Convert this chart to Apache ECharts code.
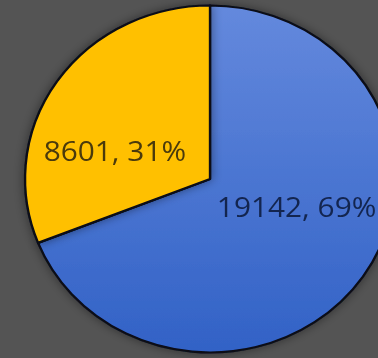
<!DOCTYPE html>
<html>
<head>
<meta charset="utf-8">
<script src="https://cdn.jsdelivr.net/npm/echarts@6/dist/echarts.min.js"></script>
<style>
  html, body { margin: 0; padding: 0; background: #545454; }
  #chart {
    width: 378px; height: 358px;
    /* the pie is drawn slightly wider than tall */
    transform: scaleX(1.066);
    transform-origin: 210px 0;
  }
</style>
</head>
<body>
<div id="chart"></div>
<script>
const categories = ['B', 'A'];
const values = [19142, 8601];
const colors = ['#4a78d2', '#ffc000'];
const labelColors = ['#13254f', '#4a3a0c'];
// nudges of the value labels away from their default inside spot
const labelShift = [[7, -24], [-15, 21]];

const blueFill = new echarts.graphic.LinearGradient(0, 5, 0, 351, [
  { offset: 0, color: '#6489dd' },
  { offset: 1, color: '#3262c6' }
], true);

const chart = echarts.init(document.getElementById('chart'), null, { renderer: 'svg' });
chart.setOption({
  backgroundColor: '#545454',
  animation: false,
  series: [{
    type: 'pie',
    center: [210, 179],
    radius: 173.5,
    startAngle: 90,
    clockwise: true,
    silent: true,
    itemStyle: {
      borderColor: '#080c18',
      borderWidth: 2.2,
      shadowBlur: 10,
      shadowColor: 'rgba(0,0,0,0.45)'
    },
    label: {
      show: true,
      position: 'inside',
      fontFamily: 'Open Sans',
      fontSize: 28,
      formatter: p => p.value + ', ' + Math.round(p.percent) + '%'
    },
    labelLine: { show: false },
    labelLayout: p => ({ dx: labelShift[p.dataIndex][0], dy: labelShift[p.dataIndex][1] }),
    data: categories.map((c, i) => ({
      name: c,
      value: values[i],
      itemStyle: { color: i === 0 ? blueFill : colors[i] },
      label: { color: labelColors[i] }
    }))
  }]
});
</script>
</body>
</html>
